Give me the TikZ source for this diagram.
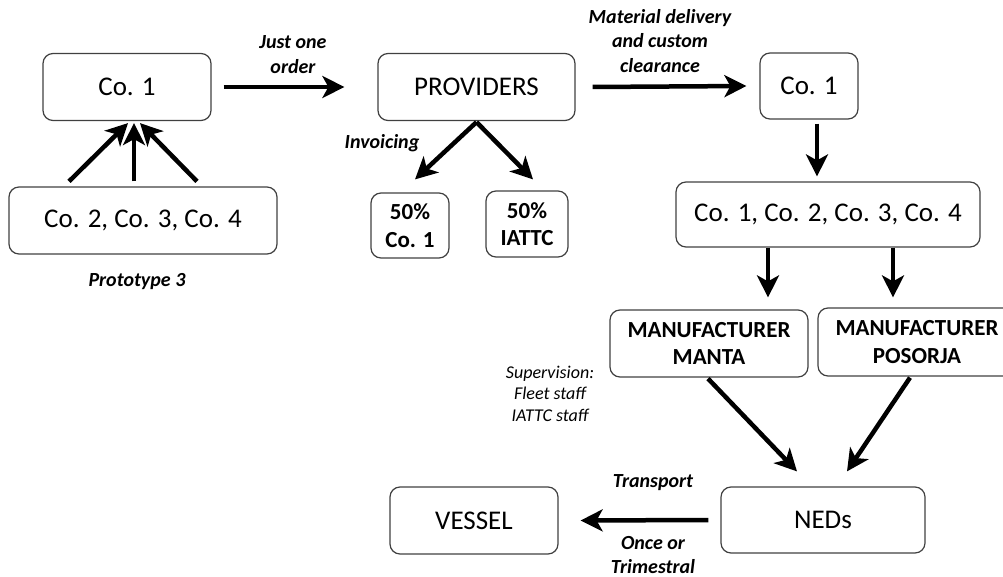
\documentclass[tikz,border=0pt]{standalone}
\usepackage{fontspec}
\setmainfont{Carlito}
\usetikzlibrary{arrows.meta}

\begin{document}
\begin{tikzpicture}[x=1pt,y=-1pt,
 box/.style={draw=black!75, line width=1.2pt, rounded corners=10pt, inner sep=0pt, align=center, font=\fontsize{27}{32}\selectfont},
 bbox/.style={box, font=\fontsize{23}{27.5}\selectfont\bfseries},
 lbl/.style={align=center, inner sep=0pt, font=\fontsize{20}{24.5}\selectfont\bfseries\itshape},
 arr/.style={line width=4.5pt, -{Stealth[length=22pt,width=22pt,inset=6pt]}}]
\useasboundingbox (0,0) rectangle (1003,577);
\clip (0,0) rectangle (1003,577);
\node[box, minimum width=168pt, minimum height=67pt] (co1a) at (127,87) {Co. 1};
\node[box, minimum width=268pt, minimum height=67pt] (co234) at (143,220.5) {Co. 2, Co. 3, Co. 4};
\node[box, minimum width=197pt, minimum height=67pt] (prov) at (476.5,87) {PROVIDERS};
\node[box, minimum width=98pt, minimum height=66pt] (co1b) at (809,86) {Co. 1};
\node[bbox, minimum width=78pt, minimum height=65pt] (pctco) at (410,225.5) {50\%\\Co. 1};
\node[bbox, minimum width=82pt, minimum height=66pt] (pctiattc) at (527,224) {50\%\\IATTC};
\node[box, minimum width=304pt, minimum height=65pt] (coall) at (828,214.5) {Co. 1, Co. 2, Co. 3, Co. 4};
\node[bbox, minimum width=198pt, minimum height=67pt] (manta) at (709,343.5) {MANUFACTURER\\MANTA};
\node[bbox, minimum width=198pt, minimum height=68pt] (posorja) at (917,342) {MANUFACTURER\\POSORJA};
\node[box, minimum width=204pt, minimum height=66pt] (neds) at (823,520) {NEDs};
\node[box, minimum width=168pt, minimum height=67pt] (vessel) at (474,520.5) {VESSEL};
\node[lbl] (order) at (293,54.5) {Just one\\order};
\node[lbl] (material) at (660,41) {Material delivery\\and custom\\clearance};
\node[lbl] (invoicing) at (382,143) {Invoicing};
\node[lbl] (proto) at (137,282) {Prototype 3};
\node[lbl, font=\fontsize{18}{21.5}\selectfont\itshape] (superv) at (550,393.5) {Supervision:\\Fleet staff\\IATTC staff};
\node[lbl] (transport) at (653,483) {Transport};
\node[lbl] (freq) at (653,555) {Once or\\Trimestral};
\draw[arr] ([xshift=-74pt,yshift=5pt]co234.north) -- ([xshift=1pt,yshift=-2pt]co1a.south);
\draw[arr] ([xshift=-9pt,yshift=5pt]co234.north) -- ([xshift=7pt,yshift=-2pt]co1a.south);
\draw[arr] ([xshift=54pt,yshift=5pt]co234.north) -- ([xshift=13pt,yshift=-2pt]co1a.south);
\draw[arr] ([xshift=12pt]co1a.east) -- ([xshift=-33pt]prov.west);
\draw[arr] ([xshift=17pt]prov.east) -- ([xshift=-13pt]co1b.west);
\draw[arr] ([yshift=-1pt]prov.south) -- ([xshift=5pt,yshift=13pt]pctco.north);
\draw[arr] ([yshift=-1pt]prov.south) -- ([xshift=6pt,yshift=11pt]pctiattc.north);
\draw[arr] ([xshift=8pt,yshift=-4pt]co1b.south) -- ([xshift=-11pt,yshift=5pt]coall.north);
\draw[arr] ([xshift=-60pt]coall.south) -- ([xshift=59pt,yshift=12pt]manta.north);
\draw[arr] ([xshift=65pt]coall.south) -- ([xshift=-24pt,yshift=10pt]posorja.north);
\draw[arr] ([xshift=-1pt,yshift=-1pt]manta.south) -- ([xshift=-26pt,yshift=15pt]neds.north);
\draw[arr] ([xshift=-7pt,yshift=-1pt]posorja.south) -- ([xshift=24pt,yshift=15pt]neds.north);
\draw[arr] ([xshift=-12pt]neds.west) -- ([xshift=22pt]vessel.east);
\end{tikzpicture}
\end{document}
